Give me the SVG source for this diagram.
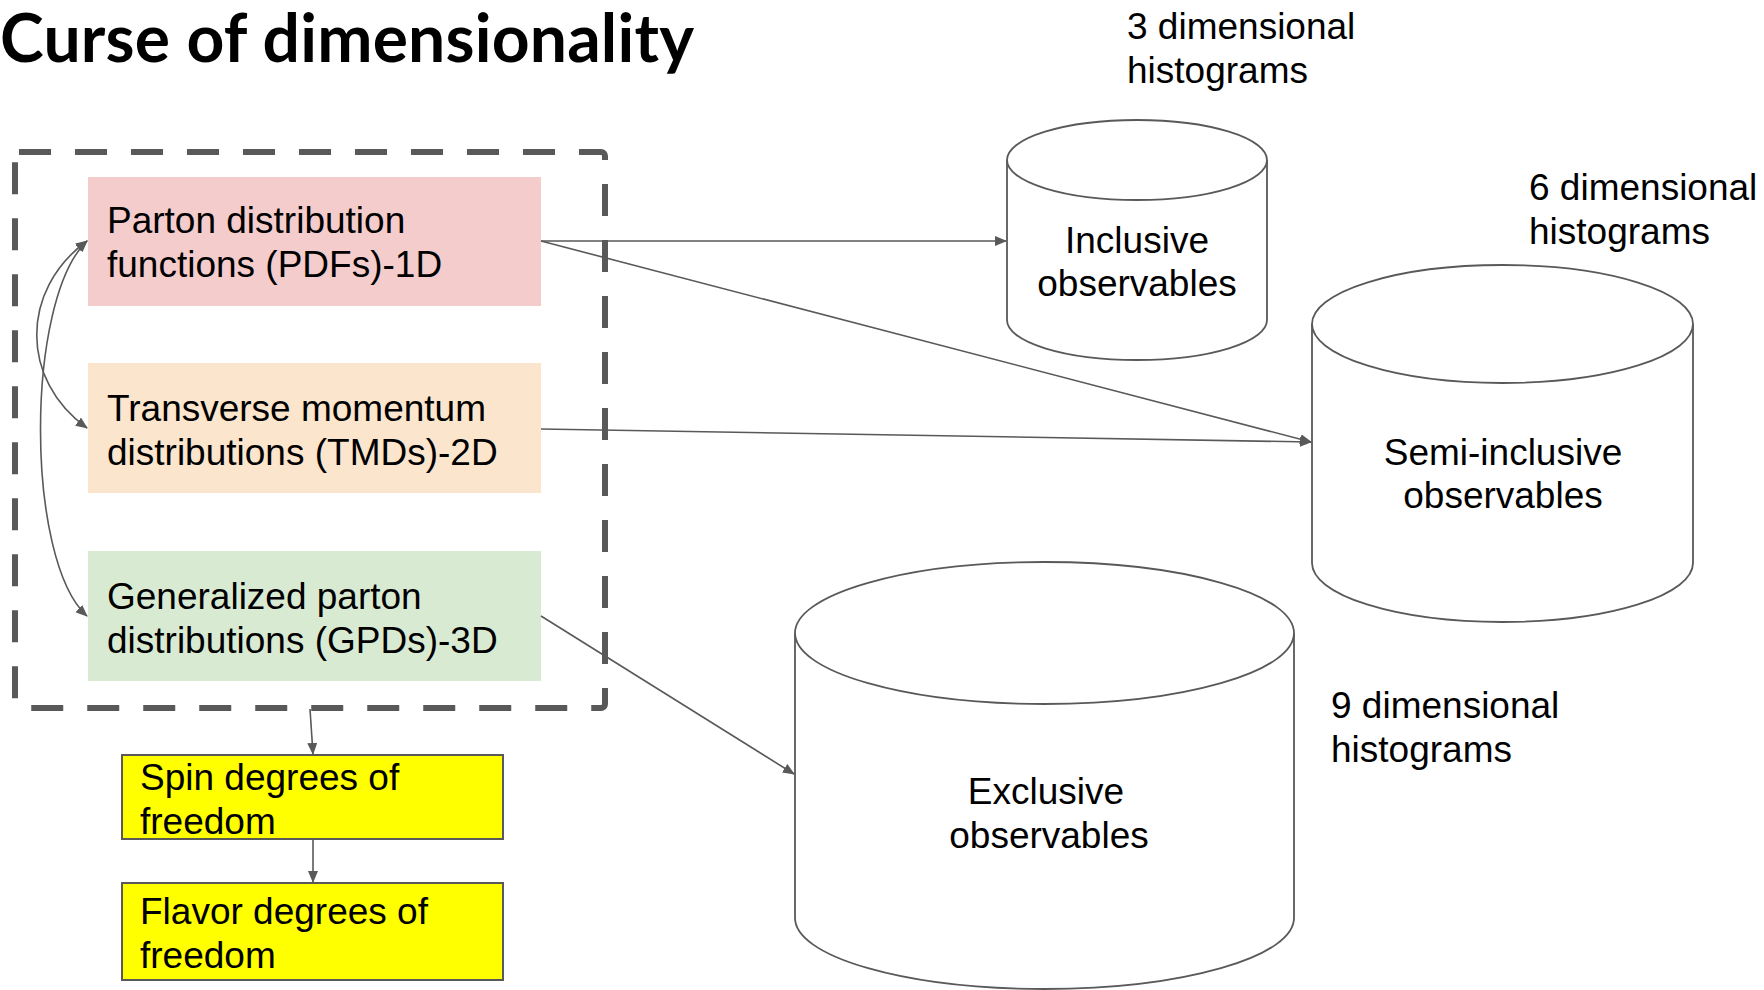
<svg xmlns="http://www.w3.org/2000/svg" width="1764" height="990" viewBox="0 0 1764 990">
  <defs>
    <marker id="arrow" viewBox="0 0 12 10" refX="11" refY="5" markerWidth="12" markerHeight="10" markerUnits="userSpaceOnUse" orient="auto-start-reverse">
      <path d="M0,0 L12,5 L0,10 z" fill="#595959"/>
    </marker>
    <style>
      .lbl { font-family: "Liberation Sans", Arial, sans-serif; font-size: 37px; fill: #000; }
      .mid { text-anchor: middle; }
      .title { font-family: Lato, "Open Sans", sans-serif; font-weight: 700; font-size: 66px; fill: #000; }
      .box { stroke: none; }
      .ybox { fill: #ffff00; stroke: #595959; stroke-width: 2; }
      .cyl { fill: #fff; stroke: #595959; stroke-width: 1.8; }
      .conn { fill: none; stroke: #595959; stroke-width: 1.6; }
    </style>
  </defs>
  <rect width="1764" height="990" fill="#fff"/>

  <text class="title" x="0" y="62" textLength="694" lengthAdjust="spacing">Curse of dimensionality</text>

  <!-- dashed grouping frame around the three distribution boxes -->
  <g id="frame">
    <rect x="15" y="152" width="590" height="556" rx="4" fill="none" stroke="#595959" stroke-width="6" stroke-dasharray="32 24" stroke-linejoin="round"/>
  </g>

  <g id="pdf">
    <rect class="box" x="88" y="177" width="453" height="129" fill="#f4cccc"/>
    <text class="lbl" x="107" y="233">Parton distribution</text>
    <text class="lbl" x="107" y="277">functions (PDFs)-1D</text>
  </g>
  <g id="tmd">
    <rect class="box" x="88" y="363" width="453" height="130" fill="#fce5cd"/>
    <text class="lbl" x="107" y="421">Transverse momentum</text>
    <text class="lbl" x="107" y="465">distributions (TMDs)-2D</text>
  </g>
  <g id="gpd">
    <rect class="box" x="88" y="551" width="453" height="130" fill="#d9ead3"/>
    <text class="lbl" x="107" y="609">Generalized parton</text>
    <text class="lbl" x="107" y="653">distributions (GPDs)-3D</text>
  </g>

  <g id="spin">
    <rect class="ybox" x="122" y="755" width="381" height="84"/>
    <text class="lbl" x="140" y="790">Spin degrees of</text>
    <text class="lbl" x="140" y="834">freedom</text>
  </g>
  <g id="flavor">
    <rect class="ybox" x="122" y="883" width="381" height="97"/>
    <text class="lbl" x="140" y="924">Flavor degrees of</text>
    <text class="lbl" x="140" y="968">freedom</text>
  </g>

  <g id="inclusive">
    <path class="cyl" d="M1007,160 L1007,320 A130,40 0 0 0 1267,320 L1267,160"/>
    <ellipse class="cyl" cx="1137" cy="160" rx="130" ry="40"/>
    <text class="lbl mid" x="1137" y="253">Inclusive</text>
    <text class="lbl mid" x="1137" y="296">observables</text>
  </g>
  <g id="semi-inclusive">
    <path class="cyl" d="M1312,324 L1312,563 A190.5,59 0 0 0 1693,563 L1693,324"/>
    <ellipse class="cyl" cx="1502.5" cy="324" rx="190.5" ry="59"/>
    <text class="lbl mid" x="1503" y="465">Semi-inclusive</text>
    <text class="lbl mid" x="1503" y="508">observables</text>
  </g>
  <g id="exclusive">
    <path class="cyl" d="M795,633 L795,918 A249.5,71 0 0 0 1294,918 L1294,633"/>
    <ellipse class="cyl" cx="1044.5" cy="633" rx="249.5" ry="71"/>
    <text class="lbl mid" x="1046" y="804">Exclusive</text>
    <text class="lbl mid" x="1049" y="848">observables</text>
  </g>

  <g id="dim3">
    <text class="lbl" x="1127" y="39">3 dimensional</text>
    <text class="lbl" x="1127" y="83">histograms</text>
  </g>
  <g id="dim6">
    <text class="lbl" x="1529" y="200">6 dimensional</text>
    <text class="lbl" x="1529" y="244">histograms</text>
  </g>
  <g id="dim9">
    <text class="lbl" x="1331" y="718">9 dimensional</text>
    <text class="lbl" x="1331" y="762">histograms</text>
  </g>

  <g id="connectors">
    <path class="conn" d="M87,241 C20,290 20,380 87,428" marker-start="url(#arrow)" marker-end="url(#arrow)"/>
    <path class="conn" d="M87,241 C25,300 25,560 87,616" marker-start="url(#arrow)" marker-end="url(#arrow)"/>
    <path class="conn" d="M541,241 L1006,241" marker-end="url(#arrow)"/>
    <path class="conn" d="M541,241 L1311,442" marker-end="url(#arrow)"/>
    <path class="conn" d="M541,429 L1311,442" marker-end="url(#arrow)"/>
    <path class="conn" d="M541,616 L794,774" marker-end="url(#arrow)"/>
    <path class="conn" d="M310,709 L313,754" marker-end="url(#arrow)"/>
    <path class="conn" d="M313,839 L313,882" marker-end="url(#arrow)"/>
  </g>
</svg>
